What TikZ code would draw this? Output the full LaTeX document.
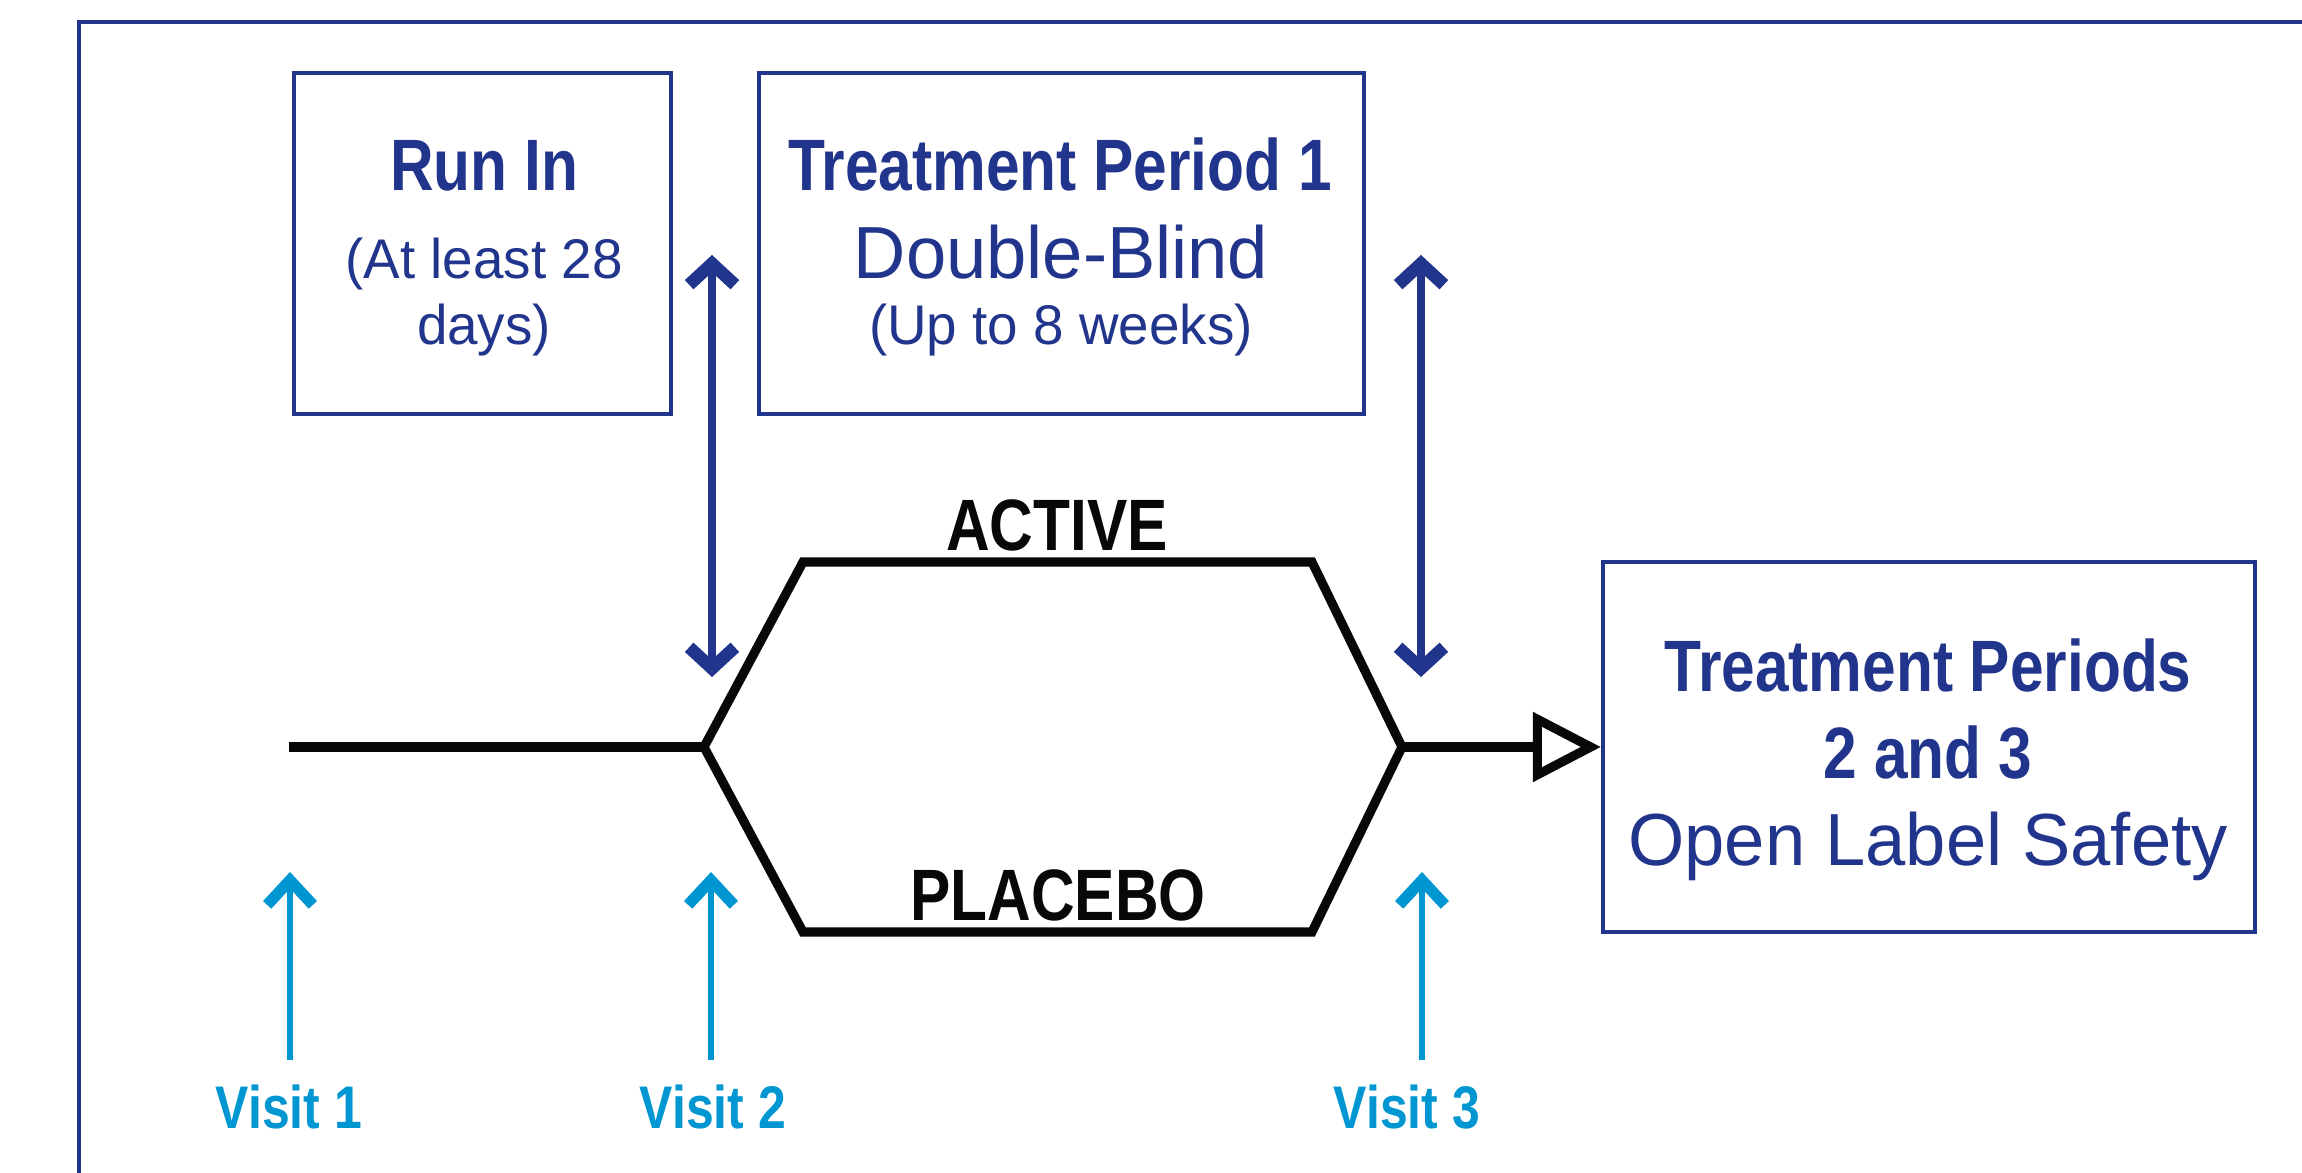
\documentclass[tikz,border=0pt]{standalone}
\usepackage{fontspec}
\newfontfamily\condbold{Liberation Sans}[FakeStretch=0.83]
\newfontfamily\condreg{Liberation Sans}[FakeStretch=0.98]
\usetikzlibrary{arrows.meta}
\definecolor{trialblue}{RGB}{34,53,140}
\definecolor{visitblue}{RGB}{0,150,210}
\definecolor{armblack}{RGB}{8,8,8}

\begin{document}
\begin{tikzpicture}[
        x=0.01cm, y=-0.01cm,
        frame/.style={draw=trialblue, line width=1.4pt},
        period/.style={rectangle, draw=trialblue, line width=1.1pt, inner sep=0pt},
        period_title/.style={anchor=base, text=trialblue, font=\condbold\bfseries\fontsize{20.7}{24}\selectfont},
        period_sub/.style={anchor=base, text=trialblue, font=\condreg\fontsize{21}{25}\selectfont},
        period_note/.style={anchor=base, text=trialblue, font=\condreg\fontsize{15.9}{19}\selectfont},
        arm/.style={draw=armblack, line width=2.6pt, line join=miter},
        arm_label/.style={anchor=base, text=armblack, font=\condbold\bfseries\fontsize{20.7}{24}\selectfont},
        window_arrow/.style={draw=trialblue, line width=2pt,
            arrows={Straight Barb[length=6pt, width=13pt, line width=3.6pt, sharp]-Straight Barb[length=6pt, width=13pt, line width=3.6pt, sharp]}},
        visit/.style={anchor=base, text=visitblue, font=\condbold\bfseries\fontsize{17.1}{20}\selectfont},
        visit_arrow/.style={draw=visitblue, line width=1.5pt,
            arrows={-Straight Barb[length=7pt, width=13pt, line width=3.2pt, sharp]}}
    ]
        \useasboundingbox (0,0) rectangle (2302,1173);

        % outer frame (runs off the right and bottom edge)
        \draw[frame] (79,1173) -- (79,22) -- (2302,22);

        % Period boxes
        \node[period, minimum width=3.77cm, minimum height=3.41cm] (runin) at (482.5,243.5) {};
        \node[period, minimum width=6.05cm, minimum height=3.41cm] (tp1) at (1061.5,243.5) {};
        \node[period, minimum width=6.52cm, minimum height=3.70cm] (tp23) at (1929,747) {};

        \node[period_title] (runin_title) at (484,191) {Run In};
        \node[period_note] (runin_note1) at (484,278) {(At least 28};
        \node[period_note] (runin_note2) at (484,345) {days)};

        \node[period_title] (tp1_title) at (1060,191) {Treatment Period 1};
        \node[period_sub] (tp1_sub) at (1061,278) {Double-Blind};
        \node[period_note] (tp1_note) at (1061,345) {(Up to 8 weeks)};

        \node[period_title] (tp23_title1) at (1928,691) {Treatment Periods};
        \node[period_title] (tp23_title2) at (1928,778) {2 and 3};
        \node[period_sub] (tp23_sub) at (1928,865) {Open Label Safety};

        % Arms: run in line splits into active / placebo and merges again
        \coordinate (start) at (289,747);
        \coordinate (split) at (704,747);
        \coordinate (merge) at (1402,747);
        \coordinate (active_l) at (803,562);
        \coordinate (active_r) at (1312,562);
        \coordinate (placebo_l) at (803,932);
        \coordinate (placebo_r) at (1312,932);
        \draw[arm] (start) -- (split);
        \draw[arm] (split) -- (active_l) -- (active_r) -- (merge) -- (placebo_r) -- (placebo_l) -- cycle;
        \draw[arm, arrows={-Triangle[open, length=0.68cm, width=0.68cm, line width=2.6pt]}] (merge) -- (tp23);

        \node[arm_label] (active) at (1057,550) {ACTIVE};
        \node[arm_label] (placebo) at (1058,920) {PLACEBO};

        % Double-blind window arrows
        \coordinate (win1_top) at (712,255);
        \coordinate (win1_bot) at (712,677);
        \coordinate (win2_top) at (1421,255);
        \coordinate (win2_bot) at (1421,677);
        \draw[window_arrow] (win1_top) -- (win1_bot);
        \draw[window_arrow] (win2_top) -- (win2_bot);

        % Visits
        \node[visit] (visit1) at (289,1128) {Visit 1};
        \node[visit] (visit2) at (713,1128) {Visit 2};
        \node[visit] (visit3) at (1407,1128) {Visit 3};
        \coordinate (visit1_tip) at (290,872);
        \coordinate (visit2_tip) at (711,872);
        \coordinate (visit3_tip) at (1422,872);
        \draw[visit_arrow] (visit1_tip |- 0,1060) -- (visit1_tip);
        \draw[visit_arrow] (visit2_tip |- 0,1060) -- (visit2_tip);
        \draw[visit_arrow] (visit3_tip |- 0,1060) -- (visit3_tip);

    \end{tikzpicture}
\end{document}
